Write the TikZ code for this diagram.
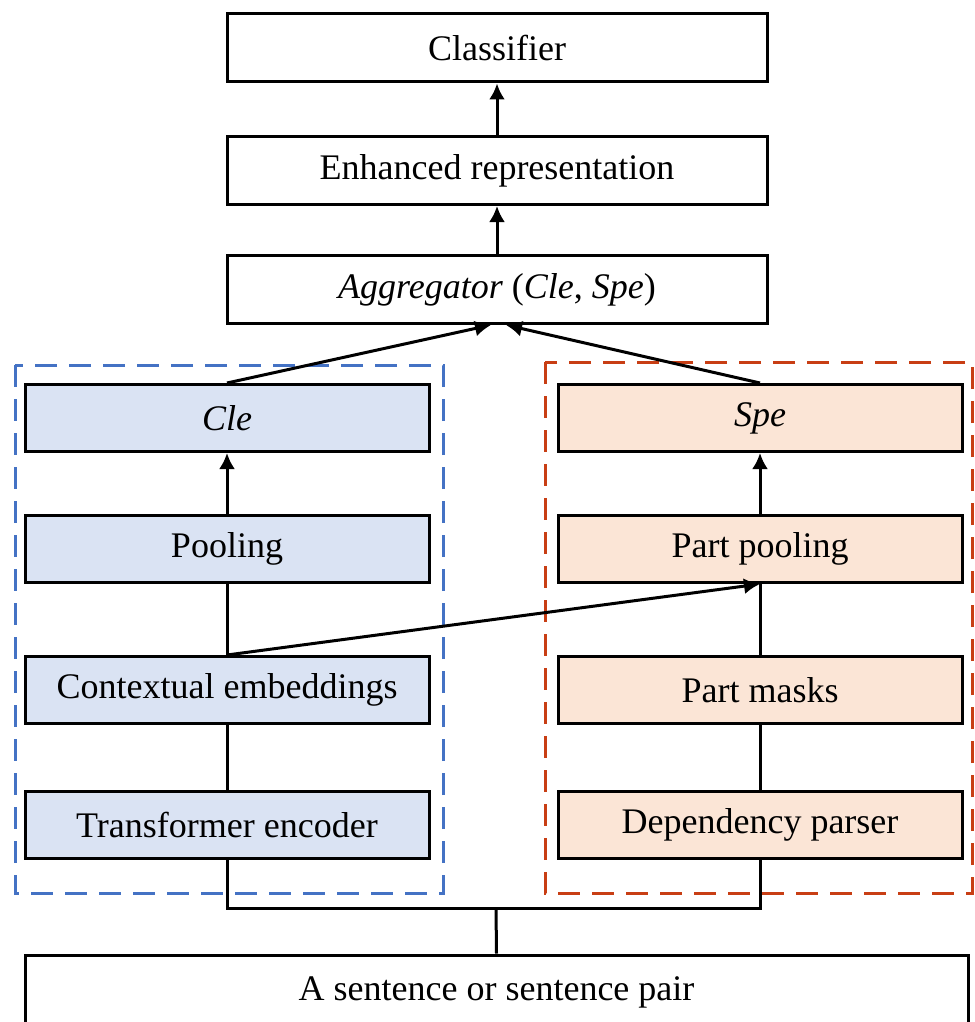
\documentclass[tikz,border=0pt]{standalone}
\usepackage{fontspec}
\setmainfont{Liberation Serif}
\usetikzlibrary{arrows.meta,calc}

\definecolor{clefill}{RGB}{218,227,243}
\definecolor{cleline}{RGB}{68,114,196}
\definecolor{spefill}{RGB}{251,229,214}
\definecolor{speline}{RGB}{200,62,20}

\tikzset{
	box/.style={draw=black, line width=1.5pt, fill=white, minimum width=270pt, minimum height=34pt, inner sep=0pt, font=\fontsize{18}{21}\selectfont},
	clebox/.style={box, fill=clefill, minimum width=202pt, minimum height=33.5pt},
	spebox/.style={box, fill=spefill, minimum width=202pt, minimum height=33.5pt},
	group/.style={line width=1.5pt, dash pattern=on 11pt off 6pt},
	link/.style={line width=1.5pt},
	flow/.style={link, -{Latex[length=8pt,width=8pt]}}
}

\begin{document}
\begin{tikzpicture}[x=0.5pt, y=-0.5pt]
	\useasboundingbox (0,0) rectangle (974,1022);
	\begin{scope}
	\clip (0,0) rectangle (974,1022);

	% dashed groups
	\draw[group, cleline] (15,365) rectangle (443,893);
	\draw[group, speline] (545,362) rectangle (972,893);

	% top part
	\node[box] (cls) at (497,48) {Classifier};
	\node[box] (enh) at (497,170.5) {Enhanced representation};
	\node[box] (agg) at (497,289.5) {\textit{Aggregator} (\textit{Cle}, \textit{Spe})};

	% left branch
	\node[clebox] (cle) at (227,418) {\textit{Cle}};
	\node[clebox] (pool) at (227,549) {Pooling};
	\node[clebox] (ctx) at (227,690) {Contextual embeddings};
	\node[clebox] (enc) at (227,825) {Transformer encoder};

	% right branch
	\node[spebox] (spe) at (760,418) {\textit{Spe}};
	\node[spebox] (ppool) at (760,549) {Part pooling};
	\node[spebox] (pmask) at (760,690) {Part masks};
	\node[spebox] (dep) at (760,825) {Dependency parser};

	% input
	\node[box, minimum width=471.5pt, minimum height=60pt] (inp) at (496.5,1015) {};
	\node[font=\fontsize{18}{21}\selectfont] (inptext) at (496.5,992) {A sentence or sentence pair};

	\coordinate (aggL) at ([xshift=-3pt]agg.south);
	\coordinate (aggR) at ([xshift=4.5pt]agg.south);
	\coordinate (join) at (496,908);

	% connectors
	\draw[flow] (enh) -- (cls);
	\draw[flow] (agg) -- (enh);
	\draw[flow] (cle.north) -- (aggL);
	\draw[flow] (spe.north) -- (aggR);
	\draw[flow] (pool) -- (cle);
	\draw[link] (ctx) -- (pool);
	\draw[link] (enc) -- (ctx);
	\draw[flow] (ppool) -- (spe);
	\draw[link] (pmask) -- (ppool);
	\draw[link] (dep) -- (pmask);
	\draw[flow] (ctx.north) -- (ppool.south);
	\draw[link] (enc.south) |- (join) -| (dep.south);
	\draw[link] (join) -- (inp.north);
	\end{scope}
\end{tikzpicture}
\end{document}
